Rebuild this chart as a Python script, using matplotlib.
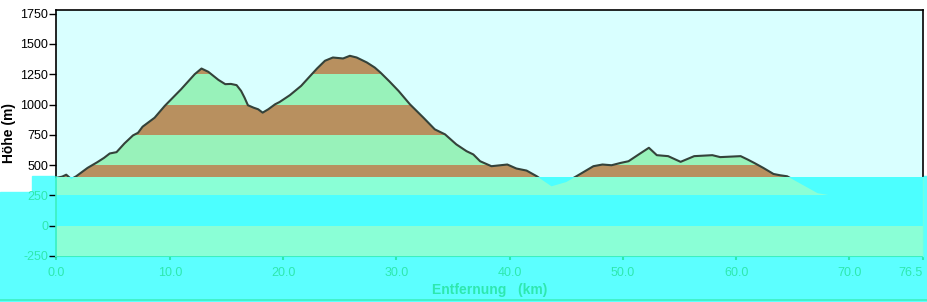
import matplotlib
matplotlib.use("Agg")
import matplotlib.pyplot as plt
from matplotlib.patches import Polygon, Rectangle
from matplotlib.lines import Line2D

plt.rcParams['font.family'] = ['Liberation Sans', 'DejaVu Sans']
plt.rcParams['axes.unicode_minus'] = False

# profile (km, m)
dist_km = [0, 0.5, 0.86, 1.3, 1.74, 2.74, 3.6, 4.2, 4.7, 5.3, 6.0, 6.75, 7.2, 7.6,
           8.66, 9.55, 11.0, 12.2, 12.8, 13.4, 14.3, 14.9, 15.4, 15.9, 16.3, 16.6,
           16.9, 17.4, 17.8, 18.2, 18.7, 19.3, 19.7, 20.6, 21.6, 22.4, 23.0, 23.7,
           24.4, 25.3, 25.9, 26.5, 27.4, 28.1, 28.6, 29.4, 30.2, 31.2, 32.4, 33.4,
           34.3, 35.3, 36.2, 36.8, 37.4, 38.4, 39.8, 40.6, 41.5, 42.4, 43.7, 45.0,
           45.9, 47.4, 48.2, 49.0, 49.8, 50.5, 51.4, 52.3, 53.0, 54.0, 55.1, 56.3,
           57.9, 58.6, 60.4, 61.0, 61.6, 62.4, 63.3, 63.9, 64.5, 67.2, 69.9, 72.5,
           74.5, 76.5]
height_m = [395, 405, 421, 385, 408, 477, 524, 560, 596, 607, 679, 745, 767, 817,
            891, 988, 1126, 1250, 1297, 1270, 1203, 1168, 1170, 1160, 1112, 1057,
            994, 974, 961, 933, 961, 1002, 1021, 1077, 1154, 1236, 1297, 1361,
            1388, 1380, 1402, 1388, 1347, 1305, 1264, 1190, 1112, 1002, 891, 795,
            754, 671, 615, 588, 532, 491, 505, 472, 455, 408, 325, 360,
            408, 491, 505, 499, 518, 532, 588, 643, 582, 574, 527, 574,
            582, 566, 574, 547, 518, 477, 427, 416, 408, 268, 226, 118,
            19, 5]

y_ticks = [-250, 0, 250, 500, 750, 1000, 1250, 1500, 1750]
x_ticks = [0, 10, 20, 30, 40, 50, 60, 70, 76.5]
x_labels = ['0.0', '10.0', '20.0', '30.0', '40.0', '50.0', '60.0', '70.0', '76.5']

bands = [(-250, 0), (0, 250), (250, 500), (500, 750), (750, 1000),
         (1000, 1250), (1250, 1500), (1500, 1750)]
band_cols = ['#B8905F', '#98F2BA']
cut = 400          # everything below this height is washed out cyan
glitch_txt = '#2EE8AE'

fig = plt.figure(figsize=(9.28, 3.02), dpi=100)
fig.patch.set_facecolor('white')
# cyan wash outside the axes
fig.add_artist(Rectangle((32 / 928, 0), 1, (302 - 176) / 302, transform=fig.transFigure,
                         color='#5CFFFF', zorder=-1))
fig.add_artist(Rectangle((0, 0), 32 / 928, (302 - 192) / 302, transform=fig.transFigure,
                         color='#5CFFFF', zorder=-1))
fig.add_artist(Line2D([0, 1], [2 / 302, 2 / 302], transform=fig.transFigure,
                      color='#3CF0C0', lw=1.2))

ax = fig.add_axes([56.5 / 928, 46 / 302, 866.5 / 928, 246 / 302])
ax.set_facecolor('#D9FFFF')
ax.set_xlim(0, 76.5)
ax.set_ylim(-250, 1780)

verts = [(dist_km[0], -250)] + list(zip(dist_km, height_m)) + [(dist_km[-1], -250)]
terrain = Polygon(verts, closed=True, fc='none', ec='none', transform=ax.transData)
ax.add_patch(terrain)

for i, (lo, hi) in enumerate(bands):
    span = ax.axhspan(lo, hi, color=band_cols[i % 2], lw=0, zorder=1)
    span.set_clip_path(terrain)

ax.plot(dist_km, height_m, color='#34423A', lw=1.5, zorder=2)

# washed-out lower part
ax.axhspan(-250, cut, color='#4CFFFF', lw=0, zorder=3)
for lo, hi in [(-250, 0), (250, cut)]:
    span = ax.axhspan(lo, hi, color='#8AFFD6', lw=0, zorder=4)
    span.set_clip_path(terrain)

ax.set_yticks(y_ticks)
ax.set_xticks(x_ticks)
ax.set_xticklabels(x_labels)
ax.tick_params(axis='y', length=5, width=1, pad=1, labelsize=9)
ax.tick_params(axis='x', length=3, width=1.5, pad=5, labelsize=9,
               colors=glitch_txt)
ax.get_xticklabels()[-1].set_horizontalalignment('right')
for tick, v in zip(ax.yaxis.get_major_ticks(), y_ticks):
    if v < cut:
        tick.tick1line.set_color(glitch_txt)
        tick.label1.set_color(glitch_txt)

for side in ['top', 'right', 'left']:
    ax.spines[side].set_color('black')
    ax.spines[side].set_linewidth(1.2)
ax.spines['left'].set_bounds(cut, 1780)
ax.spines['right'].set_bounds(cut, 1780)
ax.spines['bottom'].set_color('#3CF0C0')
ax.spines['bottom'].set_linewidth(1.5)
ax.plot([0, 0], [-250, cut], color='#3CF0C0', lw=1.2, clip_on=False, zorder=6)
ax.plot([76.5, 76.5], [-250, cut], color='#6CFFE8', lw=1.0, clip_on=False, zorder=6)

ax.set_ylabel('Höhe (m)', fontsize=10, fontweight='bold', labelpad=3)
ax.set_xlabel('Entfernung   (km)', fontsize=10, fontweight='bold', color=glitch_txt,
              labelpad=3)

plt.savefig('out.png', dpi=100)
